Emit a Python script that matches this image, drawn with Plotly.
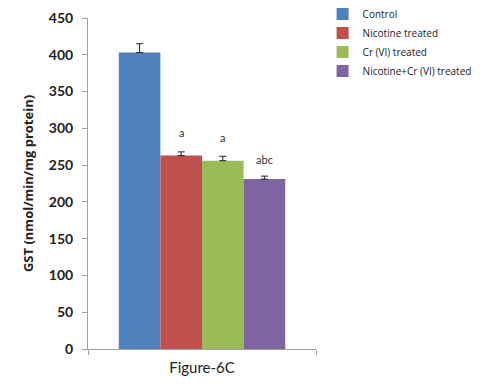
import plotly.graph_objects as go

groups = ["Control", "Nicotine treated", "Cr (VI) treated", "Nicotine+Cr (VI) treated"]
values = [403, 263, 256, 231]
errors = [12, 5, 6, 4]
sig_labels = ["", "a", "a", "abc"]
label_y = [None, 295, 287, 258]
colors = ["#4F81BD", "#C0504D", "#9BBB59", "#8064A2"]
y_ticks = [0, 50, 100, 150, 200, 250, 300, 350, 400, 450]

fig = go.Figure()
for i, g in enumerate(groups):
    fig.add_trace(go.Bar(
        x=[0], y=[values[i]], name=g, marker_color=colors[i],
        marker_line_width=0,
        error_y=dict(type="data", array=[errors[i]], arrayminus=[0], symmetric=False,
                     color="#222222", thickness=1, width=3.5),
        offsetgroup=str(i),
    ))

n = len(groups)
for i, g in enumerate(groups):
    if sig_labels[i]:
        fig.add_annotation(
            x=0, y=label_y[i], text=sig_labels[i], showarrow=False,
            xref="x", yref="y", xshift=(i - (n - 1) / 2) * 41.6,
            font=dict(size=11, color="#333333", family="Lato"),
        )

fig.update_layout(
    width=503, height=386,
    margin=dict(l=80, r=195, t=10, b=45, autoexpand=False),
    paper_bgcolor="white", plot_bgcolor="white",
    barmode="group", bargap=0.27, bargroupgap=0,
    font=dict(family="Lato", color="#222222"),
    showlegend=True,
    legend=dict(x=1.029, y=1.056, xanchor="left", yanchor="top",
                font=dict(size=10, color="#222222", family="Open Sans"),
                itemwidth=30, tracegroupgap=0, bgcolor="rgba(0,0,0,0)"),
    xaxis=dict(range=[-0.5, 0.5], showticklabels=False, showline=True, linecolor="#A0A0A0",
               linewidth=1, ticks="outside", tickvals=[-0.5, 0.5], ticklen=5, tickcolor="#A0A0A0",
               title=dict(text="Figure-6C", font=dict(size=15, color="#222222", family="Lato"), standoff=8),
               showgrid=False, zeroline=False),
    yaxis=dict(range=[0, 450], tickvals=y_ticks, showline=True, linecolor="#A0A0A0", linewidth=1,
               ticks="outside", ticklen=5, tickcolor="#A0A0A0", ticklabelstandoff=6,
               tickfont=dict(size=14, color="#222222", family="Lato", weight="bold"),
               title=dict(text="<b>GST (nmol/min/mg protein)</b>", font=dict(size=13, color="#222222", family="Open Sans"), standoff=12),
               showgrid=False, zeroline=False),
)

fig.write_html("out.html")
